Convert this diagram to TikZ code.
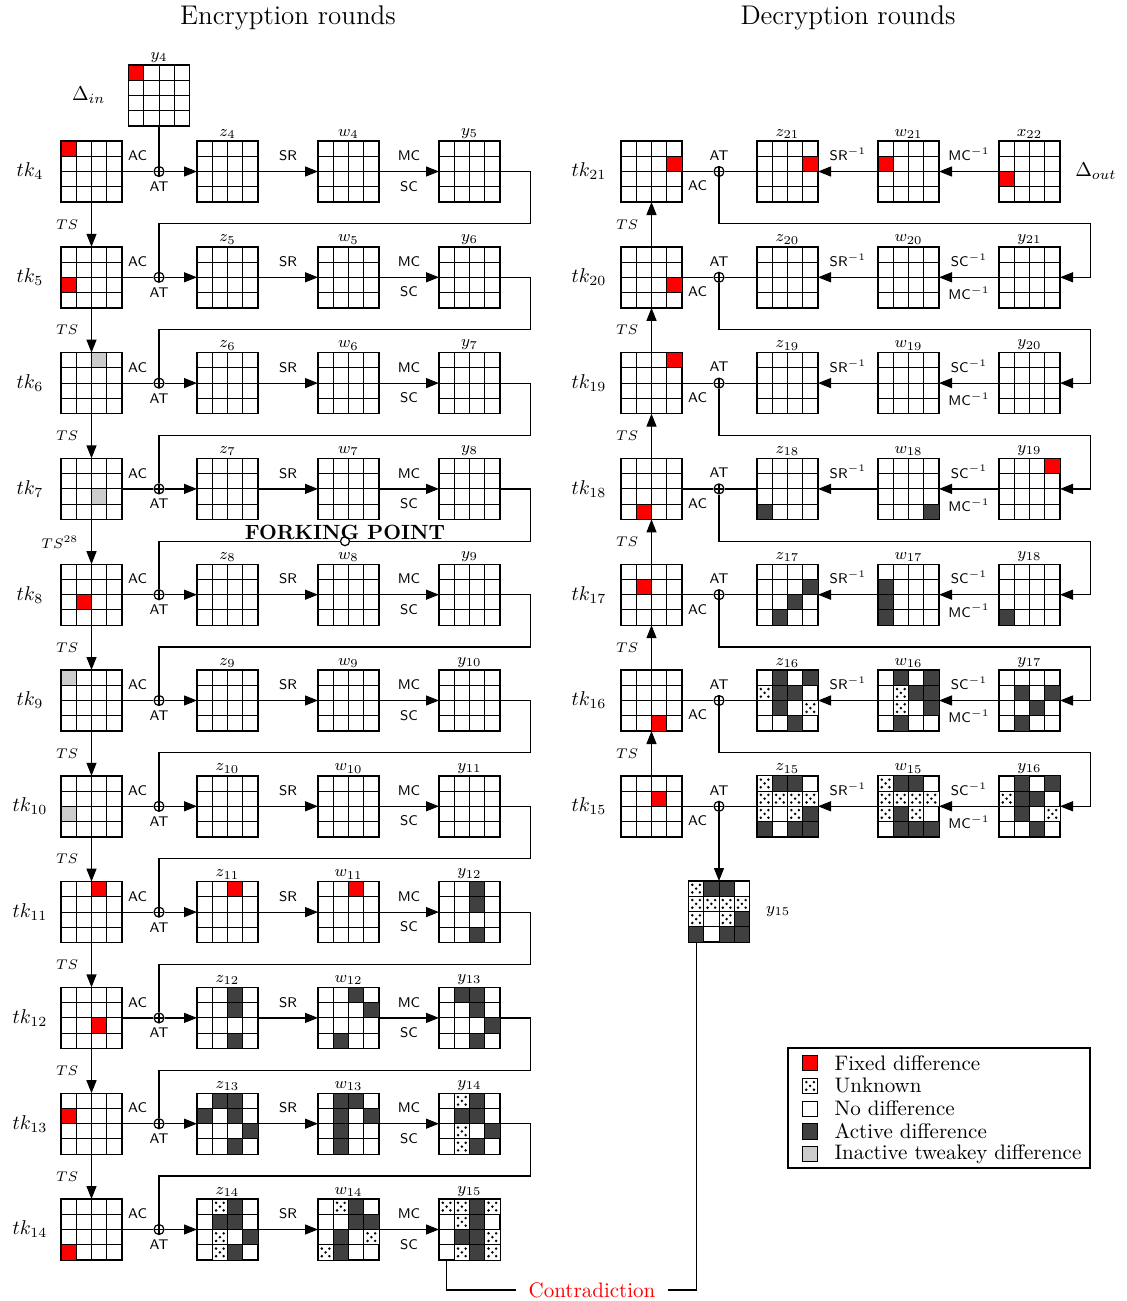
\documentclass[tikz,border=0pt]{standalone}
\usepackage{amsmath}
\usepackage{tikz}
\usetikzlibrary{arrows.meta,calc,positioning}

\begin{document}
\begin{tikzpicture}[x=0.5pt, y=-0.5pt, >={Triangle[length=6.5pt,width=5pt]}, line width=0.6pt,
    state/.style={draw, line width=0.7pt, minimum size=30.5pt, inner sep=0pt, outer sep=0pt,
      path picture={\foreach \k in {0.25,0.5,0.75} {
        \draw[line width=0.5pt] ($(path picture bounding box.north west)!\k!(path picture bounding box.north east)$) -- ($(path picture bounding box.south west)!\k!(path picture bounding box.south east)$);
        \draw[line width=0.5pt] ($(path picture bounding box.north west)!\k!(path picture bounding box.south west)$) -- ($(path picture bounding box.north east)!\k!(path picture bounding box.south east)$);}}},
    xor/.style={circle, draw, minimum size=5pt, inner sep=0pt, fill=white,
      path picture={\draw (path picture bounding box.north) -- (path picture bounding box.south) (path picture bounding box.west) -- (path picture bounding box.east);}},
    fork/.style={circle, draw, minimum size=4.5pt, inner sep=0pt, fill=white},
    fixed/.style={draw, line width=0.5pt, fill=red},
    active/.style={draw, line width=0.5pt, fill=black!75},
    inactive/.style={draw, line width=0.5pt, fill=black!20},
    nodiff/.style={draw, line width=0.5pt, fill=white},
    unknown/.style={draw, line width=0.5pt, fill=white, path picture={
      \fill[black, shift={(path picture bounding box.north west)}] (3.8,3.8) circle[radius=1.4] (11.4,3.8) circle[radius=1.4] (7.6,7.6) circle[radius=1.4] (3.8,11.4) circle[radius=1.4] (11.4,11.4) circle[radius=1.4];}},
    op/.style={font=\sffamily\fontsize{7}{8}\selectfont, inner sep=2pt},
    key/.style={font=\fontsize{10}{12}\selectfont},
    tslab/.style={font=\fontsize{7.5}{9}\selectfont},
    statelab/.style={font=\fontsize{8}{9}\selectfont, inner sep=1pt},
    every label/.style={statelab},
    title/.style={font=\fontsize{13.5}{16}\selectfont},
    forklab/.style={font=\bfseries\fontsize{10.3}{12}\selectfont, inner sep=0pt},
    contra/.style={text=red, font=\fontsize{10.5}{12}\selectfont, inner sep=6pt},
    legtext/.style={font=\fontsize{10.5}{12}\selectfont, anchor=west, inner sep=0pt}]

\useasboundingbox (0,0) rectangle (1127,1301);

\node[title] (enc) at (288,18) {Encryption rounds};
\node[title] (dec) at (848,18) {Decryption rounds};

% encryption side
\node[state, label=above:$y_{4}$] (y4) at (159,95.5) {};
\node[key, left=8pt of y4] (din) {$\Delta_{in}$};

\foreach \rd [evaluate=\rd as \cy using 171.5+105.8*(\rd-4), evaluate=\rd as \nx using int(\rd+1)] in {4,...,14} {
  \node[state] (tk\rd) at (91.5,\cy) {};
  \node[key] (tklab\rd) at (30,\cy) {$tk_{\rd}$};
  \node[xor] (xor\rd) at (159,\cy) {};
  \node[state, label=above:$z_{\rd}$] (z\rd) at (227.5,\cy) {};
  \node[state, label=above:$w_{\rd}$] (w\rd) at (348.5,\cy) {};
  \node[state, label=above:$y_{\nx}$] (y\nx) at (469.5,\cy) {};
  \draw (tk\rd) -- (xor\rd) node[op, midway, above=3pt] (ac\rd) {AC};
  \node[op, below=0pt of xor\rd] (at\rd) {AT};
  \draw[->] (xor\rd) -- (z\rd);
  \draw[->] (z\rd) -- (w\rd) node[op, midway, above=3pt] (sr\rd) {SR};
  \draw[->] (w\rd) -- (y\nx) node[op, midway, above=3pt] (mc\rd) {MC} node[op, midway, below=2.5pt] (sc\rd) {SC};
}
\draw (y4) -- (xor4);

\foreach \rd [evaluate=\rd as \nx using int(\rd+1), evaluate=\rd as \nn using int(\rd+2)] in {4,...,13} {
  \draw (y\nx.east) -| ([xshift=15.25pt,yshift=26.75pt]y\nn.east) -| (xor\nx);
  \draw[->] (tk\rd) -- (tk\nx) node[tslab, midway, left=3pt] (ts\rd) {$TS\ifnum\rd=7 ^{28}\fi$};
}

\node[fork] (fp) at ([xshift=-1.75pt,yshift=26.75pt]w8.center) {};
\node[forklab, anchor=base] (fptext) at ([yshift=1pt]fp.center) {FORKING POINT};

% decryption side
\foreach \rd [evaluate=\rd as \cy using 171.5+105.8*(21-\rd)] in {15,...,21} {
  \node[state] (tk\rd) at (651.5,\cy) {};
  \node[key] (tklab\rd) at (589,\cy) {$tk_{\rd}$};
  \node[xor] (xor\rd) at (719,\cy) {};
  \node[state, label=above:$z_{\rd}$] (z\rd) at (787.5,\cy) {};
  \node[state, label=above:$w_{\rd}$] (w\rd) at (908.5,\cy) {};
  \draw (tk\rd) -- (xor\rd) node[op, midway, below=2.5pt] (ac\rd) {AC};
  \node[op, above=0.5pt of xor\rd] (at\rd) {AT};
  \draw (xor\rd) -- (z\rd);
  \draw[->] (w\rd) -- (z\rd) node[op, midway, above=3pt] (sr\rd) {SR$^{-1}$};
}
\foreach \rd [evaluate=\rd as \cy using 171.5+105.8*(21-\rd), evaluate=\rd as \nx using int(\rd+1)] in {15,...,20} {
  \node[state, label=above:$y_{\nx}$] (y\nx) at (1029.5,\cy) {};
  \draw[->] (y\nx) -- (w\rd) node[op, midway, above=3pt] (sc\rd) {SC$^{-1}$} node[op, midway, below=2.5pt] (mc\rd) {MC$^{-1}$};
  \draw[->] (xor\nx) |- ([xshift=15.25pt,yshift=26.75pt]y\nx.east) |- (y\nx.east);
  \draw[->] (tk\rd) -- (tk\nx) node[tslab, midway, left=3pt] (ts\rd) {$TS$};
}
\node[state, label=above:$x_{22}$] (x22) at (1029.5,171.5) {};
\draw[->] (x22) -- (w21) node[op, midway, above=3pt] (mc21) {MC$^{-1}$};
\node[key, right=4pt of x22] (dout) {$\Delta_{out}$};

\node[state] (y15d) at (719,911.5) {};
\node[statelab, right=7pt of y15d] (y15dlab) {$y_{15}$};
\draw[->] (xor15) -- (y15d);

\node[contra] (contra) at (592,1290) {Contradiction};
\draw ([xshift=-11.44pt]y15.south) |- (contra.west);
\draw (contra.east) -| ([xshift=-11.44pt]y15d.south);

% differences
\foreach \m/\rw/\cl/\t in {tk4/0/0/fixed, y4/0/0/fixed, tk5/2/0/fixed, tk6/0/2/inactive, tk7/2/2/inactive,
    tk8/2/1/fixed, tk9/0/0/inactive, tk10/2/0/inactive,
    tk11/0/2/fixed, z11/0/2/fixed, w11/0/2/fixed, y12/0/2/active, y12/1/2/active, y12/3/2/active,
    tk12/2/2/fixed, z12/0/2/active, z12/1/2/active, z12/3/2/active,
    w12/0/2/active, w12/1/3/active, w12/3/1/active,
    y13/0/1/active, y13/0/2/active, y13/1/2/active, y13/2/3/active, y13/3/2/active,
    tk13/1/0/fixed, z13/0/1/active, z13/0/2/active, z13/1/0/active, z13/1/2/active, z13/2/3/active, z13/3/2/active,
    w13/0/1/active, w13/0/2/active, w13/1/1/active, w13/1/3/active, w13/2/1/active, w13/3/1/active,
    y14/0/1/unknown, y14/0/2/active, y14/1/1/active, y14/1/2/active, y14/2/1/unknown, y14/2/3/active, y14/3/1/unknown, y14/3/2/active,
    tk14/3/0/fixed,
    z14/0/1/unknown, z14/0/2/active, z14/1/1/active, z14/1/2/active, z14/2/1/unknown, z14/2/3/active, z14/3/1/unknown, z14/3/2/active,
    w14/0/1/unknown, w14/0/2/active, w14/1/2/active, w14/1/3/active, w14/2/1/active, w14/2/3/unknown, w14/3/0/unknown, w14/3/1/active,
    y15/0/0/unknown, y15/0/1/unknown, y15/0/2/active, y15/0/3/unknown, y15/1/1/unknown, y15/1/2/active,
    y15/2/1/active, y15/2/2/active, y15/2/3/unknown, y15/3/1/unknown, y15/3/2/active, y15/3/3/unknown,
    tk21/1/3/fixed, z21/1/3/fixed, w21/1/0/fixed, x22/2/0/fixed, tk20/2/3/fixed, tk19/0/3/fixed,
    tk18/3/1/fixed, z18/3/0/active, w18/3/3/active, y19/0/3/fixed,
    tk17/1/1/fixed, z17/1/3/active, z17/2/2/active, z17/3/1/active, w17/1/0/active, w17/2/0/active, w17/3/0/active, y18/3/0/active,
    tk16/3/2/fixed,
    z16/0/1/active, z16/0/3/active, z16/1/0/unknown, z16/1/1/active, z16/1/2/active, z16/2/1/active, z16/2/3/unknown, z16/3/2/active,
    w16/0/1/active, w16/0/3/active, w16/1/1/unknown, w16/1/2/active, w16/1/3/active, w16/2/1/unknown, w16/2/3/active, w16/3/1/active,
    y17/1/1/active, y17/1/3/active, y17/2/2/active, y17/3/1/active,
    tk15/1/2/fixed,
    z15/0/0/unknown, z15/0/1/active, z15/0/2/active, z15/1/0/unknown, z15/1/1/unknown, z15/1/2/unknown, z15/1/3/unknown,
    z15/2/0/unknown, z15/2/2/unknown, z15/2/3/active, z15/3/0/active, z15/3/2/active, z15/3/3/active,
    w15/0/0/unknown, w15/0/1/active, w15/0/2/active, w15/1/0/unknown, w15/1/1/unknown, w15/1/2/unknown, w15/1/3/unknown,
    w15/2/0/unknown, w15/2/1/active, w15/2/2/unknown, w15/3/1/active, w15/3/2/active, w15/3/3/active,
    y16/0/1/active, y16/0/3/active, y16/1/0/unknown, y16/1/1/active, y16/1/2/active, y16/2/1/active, y16/2/3/unknown, y16/3/2/active,
    y15d/0/0/unknown, y15d/0/1/active, y15d/0/2/active, y15d/1/0/unknown, y15d/1/1/unknown, y15d/1/2/unknown, y15d/1/3/unknown,
    y15d/2/0/unknown, y15d/2/2/unknown, y15d/2/3/active, y15d/3/0/active, y15d/3/2/active, y15d/3/3/active}
  \path[\t] ([shift={(\cl*15.25,\rw*15.25)}]\m.north west) rectangle ++(15.25,15.25);

% legend
\draw (788,1048) rectangle (1090,1168);
\foreach \t/\txt [count=\k] in {fixed/Fixed difference, unknown/Unknown, nodiff/No difference, active/Active difference, inactive/Inactive tweakey difference} {
  \path[\t] (802.5,1055.5+22.8*\k-22.8) rectangle ++(15.25,15.25);
  \node[legtext] (leg\k) at (834,1063+22.8*\k-22.8) {\txt};
}
\end{tikzpicture}
\end{document}
